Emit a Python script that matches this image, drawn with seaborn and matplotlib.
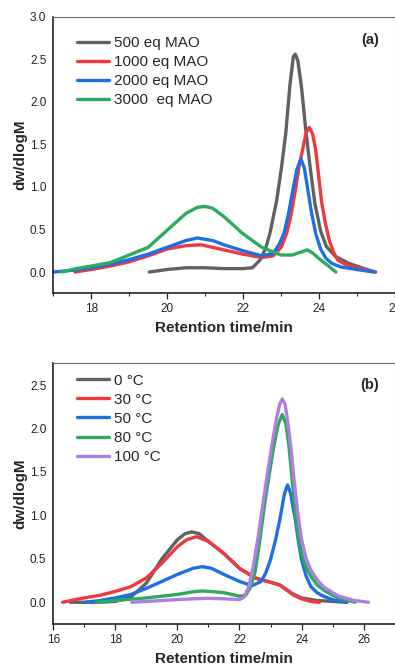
import pandas as pd
import matplotlib
matplotlib.use("Agg")
import matplotlib.pyplot as plt
import seaborn as sns
from matplotlib.ticker import MultipleLocator

# panel (a) - MAO loading
a_labels = ["500 eq MAO", "1000 eq MAO", "2000 eq MAO", "3000  eq MAO"]
a500_x = [19.53, 20.0, 20.5, 21.0, 21.5, 22.0, 22.25, 22.45, 22.6, 22.71, 22.89, 23.02, 23.13, 23.24, 23.33, 23.38,
          23.45, 23.55, 23.65, 23.77, 23.9, 24.05, 24.2, 24.45, 24.8, 25.2, 25.5]
a500_y = [0.0, 0.03, 0.05, 0.05, 0.04, 0.04, 0.05, 0.14, 0.28, 0.45, 0.84, 1.24, 1.63, 2.2, 2.53, 2.56,
          2.48, 2.15, 1.7, 1.24, 0.8, 0.48, 0.3, 0.18, 0.1, 0.04, 0.0]
a1000_x = [17.57, 18.0, 18.5, 19.0, 19.5, 20.0, 20.5, 20.9, 21.5, 22.0, 22.5, 22.8, 23.01, 23.15, 23.26, 23.38,
           23.48, 23.58, 23.66, 23.75, 23.84, 23.92, 24.0, 24.07, 24.17, 24.28, 24.4, 24.5, 24.7, 24.94, 25.2, 25.47]
a1000_y = [0.0, 0.03, 0.07, 0.12, 0.19, 0.27, 0.31, 0.32, 0.26, 0.21, 0.17, 0.19, 0.29, 0.45, 0.65, 0.95,
           1.24, 1.45, 1.63, 1.70, 1.62, 1.43, 1.12, 0.84, 0.58, 0.37, 0.22, 0.14, 0.09, 0.06, 0.03, 0.0]
a2000_x = [17.0, 17.5, 18.0, 18.5, 19.0, 19.5, 20.0, 20.5, 20.8, 21.2, 21.5, 22.0, 22.5, 22.8, 22.95, 23.08,
           23.2, 23.3, 23.42, 23.53, 23.62, 23.7, 23.8, 23.92, 24.05, 24.19, 24.35, 24.58, 25.0, 25.45]
a2000_y = [0.0, 0.02, 0.05, 0.09, 0.145, 0.21, 0.29, 0.37, 0.40, 0.37, 0.32, 0.25, 0.19, 0.22, 0.32, 0.45,
           0.68, 0.92, 1.2, 1.33, 1.22, 1.0, 0.72, 0.45, 0.27, 0.16, 0.1, 0.06, 0.03, 0.0]
a3000_x = [17.22, 17.6, 18.0, 18.5, 19.0, 19.5, 20.0, 20.5, 20.8, 21.0, 21.2, 21.5, 22.0, 22.5, 23.0, 23.3,
           23.5, 23.7, 23.85, 24.0, 24.2, 24.45]
a3000_y = [0.0, 0.04, 0.07, 0.11, 0.2, 0.29, 0.49, 0.69, 0.76, 0.77, 0.75, 0.65, 0.45, 0.29, 0.2, 0.2,
           0.23, 0.26, 0.22, 0.16, 0.09, 0.0]

# panel (b) - temperature
b_labels = ["0 °C", "30 °C", "50 °C", "80 °C", "100 °C"]
b0_x = [16.54, 17.0, 17.5, 18.0, 18.5, 19.0, 19.5, 20.0, 20.25, 20.46, 20.7, 21.0, 21.5, 22.0, 22.5, 23.0,
        23.3, 23.5, 23.7, 24.0, 24.5, 25.0, 25.46]
b0_y = [0.0, 0.0, 0.0, 0.01, 0.06, 0.22, 0.5, 0.72, 0.79, 0.81, 0.79, 0.7, 0.56, 0.39, 0.28, 0.23,
        0.2, 0.15, 0.1, 0.05, 0.02, 0.01, 0.0]
b30_x = [16.3, 16.7, 17.0, 17.5, 18.0, 18.5, 19.0, 19.5, 20.0, 20.3, 20.62, 21.0, 21.5, 22.0, 22.5, 23.0,
         23.3, 23.5, 23.75, 24.0, 24.3, 24.58]
b30_y = [0.0, 0.03, 0.05, 0.08, 0.125, 0.18, 0.28, 0.45, 0.64, 0.72, 0.755, 0.7, 0.56, 0.39, 0.28, 0.23,
         0.2, 0.145, 0.08, 0.04, 0.01, 0.0]
b50_x = [17.02, 17.5, 18.0, 18.5, 19.0, 19.5, 20.0, 20.5, 20.8, 21.1, 21.5, 22.0, 22.4, 22.7, 22.85, 23.0,
         23.15, 23.3, 23.45, 23.55, 23.65, 23.8, 23.9, 24.0, 24.15, 24.3, 24.5, 24.7, 25.0, 25.46]
b50_y = [0.0, 0.02, 0.05, 0.09, 0.16, 0.24, 0.32, 0.39, 0.41, 0.39, 0.32, 0.24, 0.19, 0.24, 0.34, 0.49,
         0.7, 0.95, 1.25, 1.35, 1.25, 0.95, 0.7, 0.49, 0.3, 0.18, 0.11, 0.07, 0.03, 0.0]
b80_x = [17.4, 18.0, 19.0, 20.0, 20.5, 20.8, 21.2, 21.5, 22.0, 22.2, 22.35, 22.5, 22.65, 22.8, 22.95, 23.1,
         23.25, 23.38, 23.5, 23.6, 23.7, 23.8, 23.9, 24.0, 24.15, 24.3, 24.5, 24.7, 25.0, 25.2, 25.73]
b80_y = [0.0, 0.02, 0.05, 0.09, 0.12, 0.13, 0.12, 0.11, 0.07, 0.08, 0.17, 0.34, 0.7, 1.1, 1.45, 1.78,
         2.05, 2.16, 2.05, 1.78, 1.4, 1.02, 0.76, 0.56, 0.4, 0.3, 0.2, 0.145, 0.08, 0.05, 0.0]
b100_x = [18.53, 19.0, 19.5, 20.0, 20.5, 21.0, 21.5, 22.0, 22.15, 22.3, 22.45, 22.6, 22.75, 22.9, 23.05, 23.2,
          23.3, 23.38, 23.47, 23.55, 23.65, 23.75, 23.87, 24.0, 24.15, 24.3, 24.5, 24.7, 25.0, 25.2, 25.7, 26.16]
b100_y = [0.0, 0.01, 0.02, 0.03, 0.04, 0.045, 0.04, 0.03, 0.06, 0.18, 0.42, 0.75, 1.12, 1.48, 1.82, 2.13,
          2.28, 2.34, 2.28, 2.09, 1.8, 1.44, 1.05, 0.72, 0.5, 0.37, 0.26, 0.18, 0.11, 0.07, 0.02, 0.0]

colors_a = ["#616161", "#ee3a3f", "#1e6fe3", "#2eaa5e"]
colors_b = ["#616161", "#ee3a3f", "#1e6fe3", "#2eaa5e", "#b07de3"]

sns.set_style("ticks")
plt.rcParams["font.family"] = ["Liberation Sans", "DejaVu Sans"]


def style_axes(ax, xlim, ylim, label):
    ax.set_xlim(*xlim)
    ax.set_ylim(*ylim)
    ax.xaxis.set_major_locator(MultipleLocator(2))
    ax.xaxis.set_minor_locator(MultipleLocator(1))
    ax.yaxis.set_major_locator(MultipleLocator(0.5))
    ax.yaxis.set_major_formatter(matplotlib.ticker.FormatStrFormatter("%.1f"))
    ax.tick_params(axis="x", which="major", direction="out", length=4, width=0.9, labelsize=8.5, pad=3, colors="#222")
    ax.tick_params(axis="x", which="minor", direction="out", length=2.5, width=0.8)
    ax.tick_params(axis="y", length=0, labelsize=8.5, pad=5, colors="#222")
    for s in ["left", "bottom"]:
        ax.spines[s].set_color("#222")
        ax.spines[s].set_linewidth(1.2)
    for s in ["top", "right"]:
        ax.spines[s].set_visible(True)
        ax.spines[s].set_color("#666")
        ax.spines[s].set_linewidth(0.8)
    ax.set_xlabel("Retention time/min", fontsize=11, fontweight="bold", labelpad=4.5)
    ax.set_ylabel("dw/dlogM", fontsize=11, fontweight="bold", labelpad=1.5)
    ax.text(0.955, 0.915, label, transform=ax.transAxes, ha="right", va="center",
            fontsize=10.5, fontweight="bold")


fig = plt.figure(figsize=(3.95, 6.66), dpi=100)
ax1 = fig.add_axes([0.135, 0.5596, 0.864, 0.4154])
ax2 = fig.add_axes([0.135, 0.0631, 0.864, 0.3914])

series_a = [(a500_x, a500_y), (a1000_x, a1000_y), (a2000_x, a2000_y), (a3000_x, a3000_y)]
for (xs, ys), lab, c in zip(series_a, a_labels, colors_a):
    sns.lineplot(x=xs, y=ys, ax=ax1, color=c, lw=2.4, label=lab, sort=False, estimator=None)

series_b = [(b0_x, b0_y), (b30_x, b30_y), (b50_x, b50_y), (b80_x, b80_y), (b100_x, b100_y)]
for (xs, ys), lab, c in zip(series_b, b_labels, colors_b):
    sns.lineplot(x=xs, y=ys, ax=ax2, color=c, lw=2.4, label=lab, sort=False, estimator=None)

style_axes(ax1, (17, 26), (-0.25, 3.0), "(a)")
style_axes(ax2, (16, 27), (-0.25, 2.75), "(b)")

for ax, top in [(ax1, 0.93), (ax2, 0.96)]:
    ax.legend(loc="upper left", bbox_to_anchor=(0.068, top), frameon=False, fontsize=11,
              handlelength=2.1, handletextpad=0.35, labelspacing=0.33, borderpad=0, borderaxespad=0)

fig.savefig("out.png", dpi=100)
